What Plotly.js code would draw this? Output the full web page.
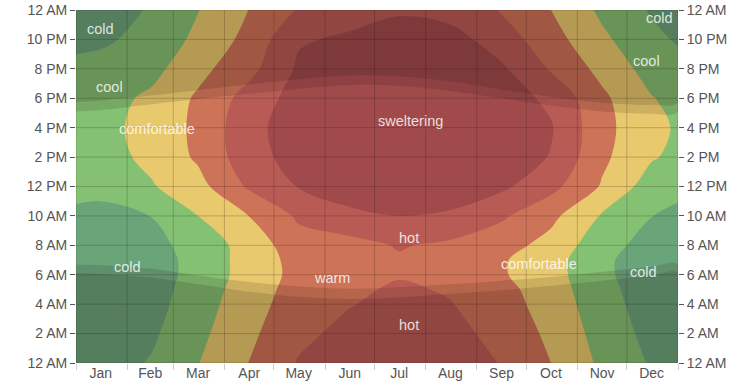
<!DOCTYPE html>
<html>
<head>
<meta charset="utf-8">
<script src="https://cdn.plot.ly/plotly-3.0.1.min.js"></script>
<style>html,body{margin:0;padding:0;background:#fff;}#chart{width:753px;height:387px;}</style>
</head>
<body>
<div id="chart"></div>
<script>
// ---- axes / categories ----
const monthNames = ['Jan','Feb','Mar','Apr','May','Jun','Jul','Aug','Sep','Oct','Nov','Dec'];
const monthMid = [15, 45, 74, 105, 135, 166, 196, 227, 258, 288, 319, 349];
const monthStarts = [0, 31, 59, 90, 120, 151, 181, 212, 243, 273, 304, 334, 365];
const hourTicks = [0, 2, 4, 6, 8, 10, 12, 14, 16, 18, 20, 22, 24];
const hourLabels = ['12 AM','2 AM','4 AM','6 AM','8 AM','10 AM','12 PM','2 PM','4 PM','6 PM','8 PM','10 PM','12 AM'];

// ---- temperature grid (°F), sampled days x hours ----
const days = [0, 15, 46, 74, 105, 135, 166, 196, 227, 258, 288, 319, 349, 365];
const hours = [0, 2, 4, 5, 6, 7, 8, 10, 12, 14, 16, 18, 20, 22, 24];
const tJan1  = [50, 48, 47, 46.5, 46, 46, 48, 53, 58, 61, 62, 61, 57, 53, 50];
const tJan   = [51, 49, 47.5, 47, 46.5, 46.5, 48.5, 51.5, 58.5, 61, 61.5, 61, 58, 53.5, 51];
const tFeb   = [55.8, 53.5, 51.5, 51, 50.5, 50.5, 52, 55.2, 64.2, 67.5, 69, 67, 62, 58, 55.8];
const tMar   = [64.7, 62.5, 60.5, 59.5, 58.5, 58.5, 59, 65, 71.5, 76.5, 77, 76.5, 72, 67.5, 64.7];
const tApr   = [75.2, 73, 71, 70, 69, 69, 69, 75.1, 86.5, 91, 92, 89, 82, 78, 75.2];
const tMay   = [85.8, 82.5, 80, 79, 78, 78.5, 81, 86.5, 95.5, 99, 100, 99, 96.5, 94, 85.8];
const tJun   = [91, 88, 84.5, 83, 82, 81.5, 82, 91.5, 103, 104.5, 105, 103.5, 100, 96.5, 91];
const tJul   = [93.5, 91, 88, 86.5, 84.2, 84, 85.7, 95, 103, 106, 107, 106, 103, 100.5, 93.5];
const tAug   = [91, 88.5, 85.5, 84, 83, 83, 83.1, 93.5, 101, 104, 105, 104, 101, 99, 91];
const tSep   = [84.5, 81.5, 79, 78, 76, 76, 79, 86.5, 97, 100.5, 101, 99.5, 96.5, 90, 84.5];
const tOct   = [75, 73, 71, 70, 69, 69, 71.5, 77.5, 88, 94.5, 95.8, 93, 84, 79, 75];
const tNov   = [63, 61, 59, 58, 57, 57, 59, 64, 74, 77, 78, 77, 72, 67, 63];
const tDec   = [54, 52, 50.5, 50, 49.5, 49.5, 51, 55.2, 60, 66, 67.5, 65.5, 61, 57.5, 54];
const tDec31 = [51, 49, 47.5, 47, 46.5, 46.5, 48.5, 52.5, 58, 62.5, 64, 62, 58.5, 54, 51];

// ---- band thresholds and names ----
const bandLevels = [55, 65, 75, 85, 95];
const bandNames = ['cold','cool','comfortable','warm','hot','sweltering'];
const bandColors = ['#6aa57a','#85c172','#e9c96d','#cd7357','#b95b55','#a04a4b'];

// ---- daylight (hours) at the same days ----
const sunrise = [6.7, 6.65, 6.4, 5.95, 5.5, 5.2, 5.05, 5.15, 5.35, 5.6, 5.85, 6.2, 6.55, 6.7];
const dawn    = [6.1, 6.05, 5.8, 5.35, 4.85, 4.5, 4.35, 4.45, 4.7, 4.95, 5.25, 5.6, 5.95, 6.1];
const sunset  = [17.1, 17.2, 17.6, 17.95, 18.3, 18.65, 18.9, 18.85, 18.5, 18.0, 17.5, 17.1, 16.95, 17.1];
const dusk    = [17.75, 17.85, 18.2, 18.55, 18.95, 19.3, 19.55, 19.5, 19.15, 18.6, 18.1, 17.7, 17.55, 17.75];

// ---- region labels ----
const labelText = ['cold','cool','comfortable','sweltering','hot','warm','hot','cold','comfortable','cold','cold','cool'];
const labelDay  = [14.6, 20.6, 49, 203, 202, 155, 202, 31.5, 280.7, 344, 354, 345.6];
const labelHour = [22.7, 18.76, 15.9, 16.45, 8.5, 5.8, 2.6, 6.5, 6.7, 6.2, 23.45, 20.5];

// build z[hour][day]
const cols = [tJan1, tJan, tFeb, tMar, tApr, tMay, tJun, tJul, tAug, tSep, tOct, tNov, tDec, tDec31];
const z = hours.map((h, i) => cols.map(c => c[i]));

const zmin = 45, zmax = 105;
const cs = [];
const nb = bandColors.length;
bandColors.forEach((col, i) => {
  cs.push([i / nb, col]);
  cs.push([(i + 1) / nb, col]);
});

const FONT = 'Liberation Sans, Arial, sans-serif';

function band(lower, upperArr) {
  return {
    type: 'scatter', mode: 'lines', hoverinfo: 'skip', showlegend: false,
    x: days.concat(days.slice().reverse()),
    y: lower.concat(upperArr.slice().reverse()),
    fill: 'toself', line: {width: 0, shape: 'spline'},
    fillcolor: 'rgba(20,10,10,0.13)'
  };
}
const tops = days.map(() => 24);
const bottoms = days.map(() => 0);

const traces = [
  {
    type: 'contour', x: days, y: hours, z: z,
    zmin: zmin, zmax: zmax, zauto: false,
    colorscale: cs, showscale: false, hoverinfo: 'skip',
    contours: {start: bandLevels[0], end: bandLevels[bandLevels.length - 1], size: 10, coloring: 'fill', showlines: false},
    line: {width: 0, smoothing: 1.0}
  },
  band(sunset, tops),
  band(dusk, tops),
  band(bottoms, sunrise),
  band(bottoms, dawn),
  {type: 'scatter', x: [], y: [], yaxis: 'y2', showlegend: false, hoverinfo: 'skip'}
];

const shapes = [];
monthStarts.forEach(d => shapes.push({type: 'line', xref: 'x', yref: 'y', x0: d, x1: d, y0: 0, y1: 24, layer: 'above', line: {color: 'rgba(40,20,20,0.22)', width: 1}}));
hourTicks.forEach(h => shapes.push({type: 'line', xref: 'x', yref: 'y', x0: 0, x1: 365, y0: h, y1: h, layer: 'above', line: {color: 'rgba(40,20,20,0.22)', width: 1}}));

const annotations = labelText.map((t, i) => ({
  x: labelDay[i], y: labelHour[i], xref: 'x', yref: 'y', text: t, showarrow: false,
  font: {family: FONT, size: 14.5, color: 'rgba(255,255,255,0.82)'}
}));

const yCommon = {
  range: [0, 24], tickmode: 'array', tickvals: hourTicks, ticktext: hourLabels,
  ticks: 'outside', ticklen: 5, tickcolor: '#555', showgrid: false, zeroline: false, showline: false,
  tickfont: {family: FONT, size: 14, color: '#555'}
};

const layout = {
  width: 753, height: 387,
  margin: {l: 76, r: 75, t: 10, b: 24},
  paper_bgcolor: '#fff', plot_bgcolor: '#fff',
  hovermode: false, showlegend: false,
  xaxis: {
    range: [0, 365], tickmode: 'array', tickvals: monthMid, ticktext: monthNames,
    ticks: '', showgrid: false, zeroline: false, showline: false,
    tickfont: {family: FONT, size: 14, color: '#555'},
    minor: {tickmode: 'array', tickvals: monthStarts, ticks: 'outside', ticklen: 6, tickcolor: '#ccc', showgrid: false}
  },
  yaxis: Object.assign({}, yCommon),
  yaxis2: Object.assign({}, yCommon, {overlaying: 'y', side: 'right'}),
  shapes: shapes,
  annotations: annotations
};

Plotly.newPlot('chart', traces, layout, {displayModeBar: false, staticPlot: true});
</script>
</body>
</html>
